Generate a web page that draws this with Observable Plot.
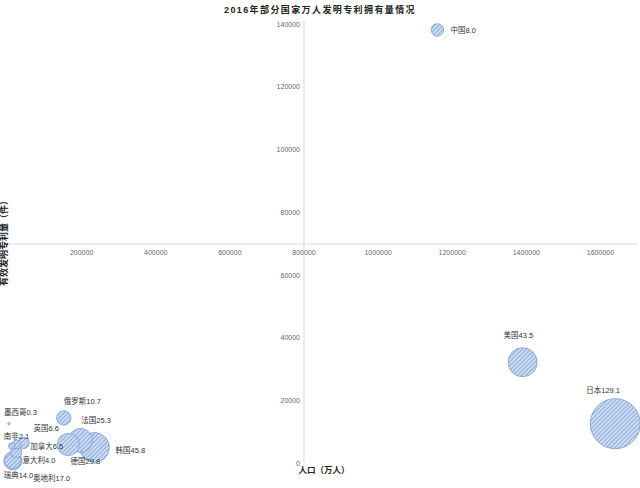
<!DOCTYPE html>
<html>
<head>
<meta charset="utf-8">
<script src="https://cdn.jsdelivr.net/npm/d3@7"></script>
<script src="https://cdn.jsdelivr.net/npm/@observablehq/plot@0.6"></script>
<style>
  html, body { margin: 0; padding: 0; background: #fff; }
  #wrap { position: relative; width: 640px; height: 488px; font-family: "Liberation Sans", "Noto Sans CJK SC", sans-serif; }
  #title { position: absolute; top: 3px; left: 0; width: 640px; text-align: center; font-size: 9px; font-weight: bold; letter-spacing: 1.4px; color: #222; z-index: 2; }
</style>
</head>
<body>
<div id="wrap"><div id="title">2016年部分国家万人发明专利拥有量情况</div></div>
<script>
// ---- data ----
const countries = ["中国","美国","日本","韩国","法国","德国","俄罗斯","英国","墨西哥","南非","加拿大","意大利","瑞典","奥地利"];
const patents = [1160000, 1390000, 1640000, 234700, 164000, 197000, 152000, 43300, 3800, 11700, 23600, 24200, 13900, 14800];   // 有效发明专利量（件）
const population = [138271, 32300, 12700, 5125, 6060, 7340, 14500, 6560, 12700, 5560, 3630, 6060, 990, 870];                 // 人口（万人）
const perTenThousand = [8.0, 43.5, 129.1, 45.8, 25.3, 29.8, 10.7, 6.6, 0.3, 2.1, 6.5, 4.0, 14.0, 17.0];                     // 万人发明专利拥有量
const xTicks = [200000, 400000, 600000, 800000, 1000000, 1200000, 1400000, 1600000];
const yTicks = [0, 20000, 40000, 60000, 80000, 100000, 120000, 140000];
const title = "2016年部分国家万人发明专利拥有量情况";
const xTitle = "人口（万人）";
const yTitle = "有效发明专利量（件）";

const data = countries.map((c, i) => ({name: c, patents: patents[i], population: population[i], v: perTenThousand[i]}));

// ---- label placement (style) ----
const labelOffset = {
  "中国": [13, 1], "美国": [-19, -27], "日本": [-29, -33], "韩国": [21, 3], "法国": [13, -24],
  "德国": [-10, 21], "俄罗斯": [0, -16], "英国": [10, -14], "墨西哥": [-5, -11], "南非": [-8, -9],
  "加拿大": [14, -6], "意大利": [6, 16], "瑞典": [-9, 15], "奥地利": [20, 18]
};

const font = "Liberation Sans, Noto Sans CJK SC, sans-serif";
const chart = Plot.plot({
  width: 640, height: 488,
  marginLeft: 7, marginRight: 3, marginTop: 24, marginBottom: 25,
  style: {fontFamily: font, background: "transparent"},
  x: {domain: [0, 1700000], axis: null},
  y: {domain: [0, 140000], axis: null},
  r: {type: "sqrt", domain: [0, 129.1], range: [0, 25]},
  marks: [
    Plot.ruleY([70000], {stroke: "#d9d9d9", strokeWidth: 1}),
    Plot.ruleX([800000], {y1: 0, y2: 141000, stroke: "#d9d9d9", strokeWidth: 1}),
    Plot.text(xTicks, {x: d => d, y: 70000, text: d => String(d), dy: 9, fontSize: 7, fill: "#666"}),
    Plot.text(yTicks, {x: 800000, y: d => d, text: d => String(d), dx: -4, textAnchor: "end", fontSize: 7, fill: "#666"}),
    Plot.dot(data, {x: "patents", y: "population", r: "v", fill: "url(#hatch)", stroke: "#8aa9dc", strokeWidth: 1}),
    ...data.map(d => Plot.text([d], {
      x: "patents", y: "population", text: e => e.name + e.v.toFixed(1),
      dx: labelOffset[d.name][0], dy: labelOffset[d.name][1], textAnchor: "start",
      fontSize: 7.5, fill: "#333"
    }))
  ]
});

// hatch pattern
const svg = d3.select(chart);
const defs = svg.insert("defs", ":first-child");
const pat = defs.append("pattern").attr("id", "hatch").attr("patternUnits", "userSpaceOnUse")
  .attr("width", 3).attr("height", 3).attr("patternTransform", "rotate(45)");
pat.append("rect").attr("width", 3).attr("height", 3).attr("fill", "#cddcf3");
pat.append("line").attr("x1", 0.5).attr("y1", 0).attr("x2", 0.5).attr("y2", 3).attr("stroke", "#8dabdd").attr("stroke-width", 1);

// axis titles
svg.append("text").attr("x", 324).attr("y", 473).attr("text-anchor", "middle")
  .attr("font-size", 8.5).attr("font-weight", "bold").attr("fill", "#222").attr("font-family", font).text(xTitle);
svg.append("text").attr("transform", "translate(7,241) rotate(-90)").attr("text-anchor", "middle")
  .attr("font-size", 9).attr("font-weight", "bold").attr("fill", "#222").attr("font-family", font).text(yTitle);

document.getElementById("title").textContent = title;
document.getElementById("wrap").appendChild(chart);
chart.style.position = "absolute"; chart.style.top = "0"; chart.style.left = "0";
</script>
</body>
</html>
